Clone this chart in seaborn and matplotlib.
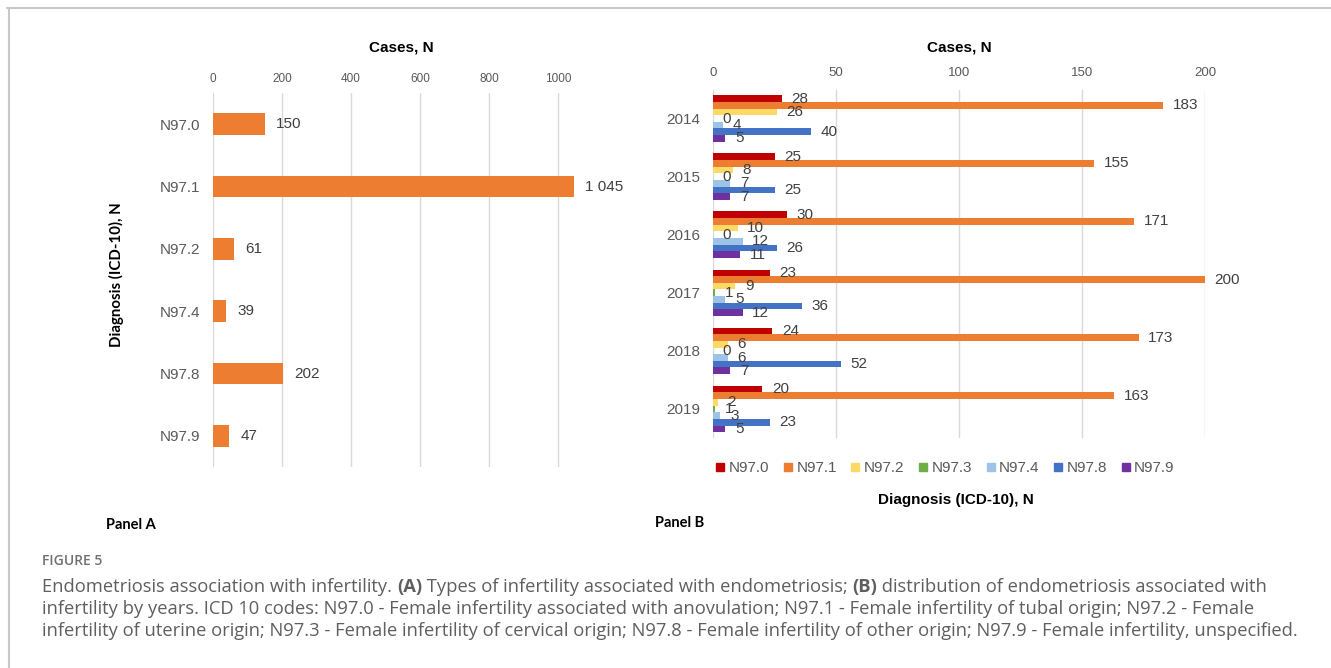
import matplotlib
matplotlib.use("Agg")
import matplotlib.pyplot as plt
from matplotlib.lines import Line2D
import pandas as pd
import seaborn as sns

W, H = 1331, 668

# Panel A: total cases per ICD-10 code
codes_a = ["N97.0", "N97.1", "N97.2", "N97.4", "N97.8", "N97.9"]
cases_a = [150, 1045, 61, 39, 202, 47]

# Panel B: cases per year and ICD-10 code
years = ["2014", "2015", "2016", "2017", "2018", "2019"]
codes_b = ["N97.0", "N97.1", "N97.2", "N97.3", "N97.4", "N97.8", "N97.9"]
n970 = [28, 25, 30, 23, 24, 20]
n971 = [183, 155, 171, 200, 173, 163]
n972 = [26, 8, 10, 9, 6, 2]
n973 = [0, 0, 0, 1, 0, 1]
n974 = [4, 7, 12, 5, 6, 3]
n978 = [40, 25, 26, 36, 52, 23]
n979 = [5, 7, 11, 12, 7, 5]
colors_b = ["#C00000", "#ED7D31", "#FFD966", "#70AD47", "#9DC3E6", "#4472C4", "#7030A0"]

values_b = dict(zip(codes_b, [n970, n971, n972, n973, n974, n978, n979]))
df_b = pd.DataFrame(
    [(y, c, v) for c in codes_b for y, v in zip(years, values_b[c])],
    columns=["year", "code", "cases"],
)

sns.set_theme(style="white")
plt.rcParams["font.family"] = ["Liberation Sans", "DejaVu Sans"]

TICK = "#595959"
VAL = "#404040"
GRID = "#D9D9D9"

fig = plt.figure(figsize=(W / 100, H / 100), dpi=100)


def box(l, t, r, b):
    return [l / W, 1 - b / H, (r - l) / W, (b - t) / H]


def style_axis(ax, xpad, labelsize_x):
    ax.xaxis.tick_top()
    ax.tick_params(axis="x", length=0, pad=xpad, labelsize=labelsize_x, labelcolor=TICK)
    ax.tick_params(axis="y", length=0, pad=9.4, labelsize=11, labelcolor=TICK)
    ax.grid(axis="x", color=GRID, lw=1)
    ax.grid(axis="y", visible=False)
    ax.set_axisbelow(True)
    for s in ax.spines.values():
        s.set_visible(False)
    ax.set_xlabel("")
    ax.set_ylabel("")


# ---- Panel A ----
axA = fig.add_axes(box(213, 93, 592.5, 467))
sns.barplot(x=cases_a, y=codes_a, orient="h", color="#ED7D31", saturation=1,
            width=0.35, linewidth=0, errorbar=None, ax=axA)
axA.set_xlim(0, 1100)
axA.set_ylim(5.5, -0.5)
axA.set_xticks(range(0, 1001, 200))
style_axis(axA, 5.5, 8.5)
contA = axA.containers[0]
axA.bar_label(contA, labels=[f"{v:,.0f}".replace(",", " ") for v in contA.datavalues],
              padding=8, fontsize=11, color=VAL)

# ---- Panel B ----
axB = fig.add_axes(box(713, 89.5, 1205, 438))
sns.barplot(data=df_b, x="cases", y="year", hue="code", order=years, hue_order=codes_b,
            palette=dict(zip(codes_b, colors_b)), saturation=1, width=0.8, orient="h",
            errorbar=None, linewidth=0, legend=False, ax=axB)
axB.set_xlim(0, 200)
axB.set_ylim(5.5, -0.5)
axB.set_xticks(range(0, 201, 50))
style_axis(axB, 7.5, 9.5)
for cont in axB.containers:
    axB.bar_label(cont, fmt="%d", padding=7, fontsize=11, color=VAL)

handles = [Line2D([], [], marker="s", ls="", color=c, markersize=5.5) for c in colors_b]
fig.legend(handles, codes_b, loc="center", bbox_to_anchor=(945.5 / W, 1 - 468 / H),
           ncol=7, frameon=False, fontsize=11, handlelength=0.5, handletextpad=0.3,
           columnspacing=0.97, borderpad=0, labelcolor=TICK)

# ---- Axis titles and panel tags ----
fig.text(401.5 / W, 1 - 48 / H, "Cases, N", ha="center", va="center",
         fontsize=11, fontweight="bold", color="black")
fig.text(959 / W, 1 - 48 / H, "Cases, N", ha="center", va="center",
         fontsize=11, fontweight="bold", color="black")
fig.text(955.5 / W, 1 - 500 / H, "Diagnosis (ICD-10), N", ha="center", va="center",
         fontsize=11, fontweight="bold", color="black")
fig.text(116 / W, 1 - 274.5 / H, "Diagnosis (ICD-10), N", ha="center", va="center",
         rotation=90, fontsize=10.8, fontweight="bold", family=["Lato", "DejaVu Sans"],
         color="black")
fig.text(106 / W, 1 - 529 / H, "Panel A", ha="left", va="baseline",
         fontsize=10.5, fontweight="bold", family=["Lato", "DejaVu Sans"], color="black")
fig.text(655 / W, 1 - 527 / H, "Panel B", ha="left", va="baseline",
         fontsize=10.5, fontweight="bold", family=["Lato", "DejaVu Sans"], color="black")

# ---- Frame ----
fig.add_artist(Line2D([7 / W, 1], [1 - 8 / H, 1 - 8 / H], color="#C8C8C8", lw=1.5))
fig.add_artist(Line2D([9 / W, 9 / W], [0, 1 - 8 / H], color="#C8C8C8", lw=1.5))

# ---- Caption ----
cap = fig.add_axes([0, 0, 1, 1])
cap.axis("off")
cap.set_zorder(-1)
CAP_FONT = ["Open Sans", "DejaVu Sans"]
CAP_COLOR = "#5f5f5f"
CAP_SIZE = 13.25

cap.text(42 / W, 1 - 565 / H, "FIGURE 5", va="baseline", ha="left", family=CAP_FONT,
         fontsize=10, fontweight="semibold", color="#707070")

caption_lines = [
    [("Endometriosis association with infertility. ", False), ("(A)", True),
     (" Types of infertility associated with endometriosis; ", False), ("(B)", True),
     (" distribution of endometriosis associated with", False)],
    [("infertility by years. ICD 10 codes: N97.0 - Female infertility associated with "
      "anovulation; N97.1 - Female infertility of tubal origin; N97.2 - Female", False)],
    [("infertility of uterine origin; N97.3 - Female infertility of cervical origin; "
      "N97.8 - Female infertility of other origin; N97.9 - Female infertility, unspecified.", False)],
]
baselines = [592, 614, 636]
for segs, yb in zip(caption_lines, baselines):
    prev = None
    for text, bold in segs:
        kw = dict(family=CAP_FONT, fontsize=CAP_SIZE, color=CAP_COLOR,
                  fontweight="bold" if bold else "normal")
        if prev is None:
            prev = cap.text(42 / W, 1 - yb / H, text, va="baseline", ha="left", **kw)
        else:
            prev = cap.annotate(text, xy=(1, 0), xycoords=prev, va="bottom", ha="left", **kw)

fig.savefig("out.png", dpi=100)
